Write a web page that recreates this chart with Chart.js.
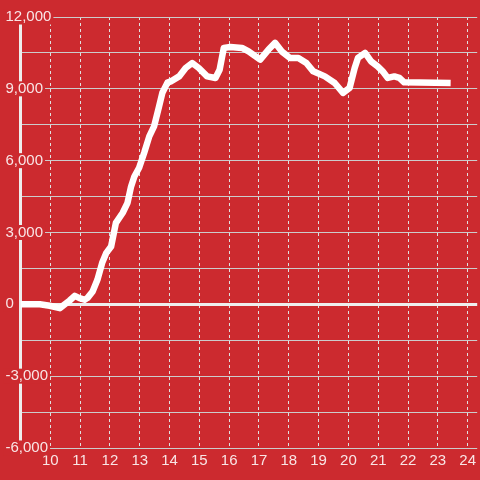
<!DOCTYPE html>
<html>
<head>
<meta charset="utf-8">
<script src="https://cdn.jsdelivr.net/npm/chart.js@4"></script>
<style>
    body { margin: 0; background: #cc2a2f; }
    canvas { display: block; }
</style>
</head>
<body>
<canvas id="lineChart" width="480" height="480"></canvas>
<script>
// Hours of day (x) and values (y)
const hours = [9.0, 9.65, 9.98, 10.32, 10.65, 10.82, 10.98, 11.15, 11.25, 11.42, 11.58, 11.74, 11.88, 12.04,
    12.2, 12.43, 12.59, 12.71, 12.82, 12.98, 13.15, 13.32, 13.48, 13.65, 13.76, 13.93, 14.04, 14.32, 14.54,
    14.76, 14.98, 15.26, 15.54, 15.68, 15.82, 16.04, 16.43, 16.65, 17.04, 17.32, 17.54, 17.76, 18.04, 18.32,
    18.59, 18.82, 19.21, 19.54, 19.82, 20.04, 20.21, 20.32, 20.56, 20.76, 20.98, 21.15, 21.32, 21.54, 21.71,
    21.87, 23.43];
const values = [0, 0, -60, -160, 160, 355, 260, 190, 270, 535, 1025, 1735, 2150, 2415,
    3400, 3825, 4240, 4925, 5340, 5705, 6330, 7015, 7430, 8270, 8840, 9260, 9310, 9520, 9870,
    10080, 9870, 9520, 9455, 9800, 10710, 10750, 10710, 10565, 10220, 10640, 10920, 10565, 10290, 10290,
    10080, 9730, 9520, 9245, 8830, 9040, 9870, 10290, 10500, 10150, 9940, 9730, 9455, 9520, 9455,
    9270, 9245];

const xTicks = [10, 11, 12, 13, 14, 15, 16, 17, 18, 19, 20, 21, 22, 23, 24];
const yTicks = [-6000, -4500, -3000, -1500, 0, 1500, 3000, 4500, 6000, 7500, 9000, 10500, 12000];

const red = '#cc2a2f';
const labelColor = 'rgba(255,255,255,0.88)';

const ctx = document.getElementById('lineChart').getContext('2d');
new Chart(ctx, {
    type: 'line',
    data: {
        datasets: [{
            data: hours.map((h, i) => ({ x: h, y: values[i] })),
            borderColor: '#ffffff',
            borderWidth: 6.5,
            borderJoinStyle: 'round',
            borderCapStyle: 'butt',
            pointRadius: 0,
            tension: 0,
            fill: false
        }]
    },
    options: {
        responsive: false,
        animation: false,
        layout: { padding: { top: 17, right: 0, bottom: 0, left: 0 } },
        scales: {
            x: {
                type: 'linear',
                min: 9,
                max: 24.32,
                afterBuildTicks: scale => { scale.ticks = xTicks.map(v => ({ value: v })); },
                afterFit: scale => { scale.height = 32; },
                grid: {
                    color: '#e0e0e0',
                    lineWidth: 1,
                    drawTicks: false,
                    borderDash: [3, 3]
                },
                border: { display: false, dash: [3, 3] },
                ticks: {
                    color: labelColor,
                    padding: 4,
                    maxRotation: 0,
                    font: { family: 'Liberation Sans', size: 15 }
                }
            },
            y: {
                min: -6000,
                max: 12000,
                afterBuildTicks: scale => { scale.ticks = yTicks.map(v => ({ value: v })); },
                afterFit: scale => { scale.width = 20.5; },
                grid: {
                    color: c => c.tick && c.tick.value === 0 ? '#eeeeee' : '#cccccc',
                    lineWidth: c => c.tick && c.tick.value === 0 ? 3 : 1,
                    drawTicks: false
                },
                border: { display: true, color: '#eeeeee', width: 3 },
                ticks: {
                    mirror: true,
                    padding: -15,
                    color: labelColor,
                    font: { family: 'Liberation Sans', size: 15, lineHeight: 1 },
                    callback: v => v % 3000 === 0 ? v.toLocaleString('en-US') : '',
                    showLabelBackdrop: c => c.tick && c.tick.value % 3000 === 0,
                    backdropColor: red,
                    backdropPadding: { top: 0, right: 2, bottom: 0, left: 2 }
                }
            }
        },
        plugins: {
            legend: { display: false },
            tooltip: { enabled: false }
        }
    }
});
</script>
</body>
</html>
